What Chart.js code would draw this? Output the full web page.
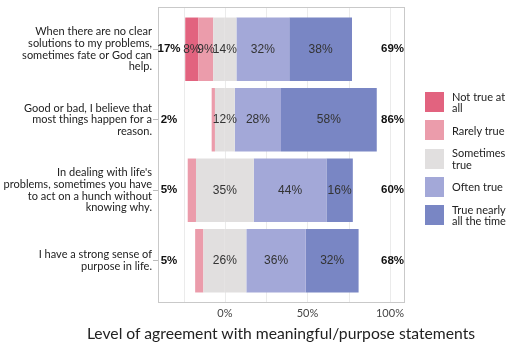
<!DOCTYPE html>
<html>
<head>
<meta charset="utf-8">
<script src="https://cdn.jsdelivr.net/npm/chart.js@4.4.1/dist/chart.umd.min.js"></script>
<style>
  body { margin: 0; background: #fff; }
  #wrap { position: relative; width: 518px; height: 345px; }
  #legend { position: absolute; left: 425px; top: 88px; font-family: Lato, sans-serif; font-size: 11px; color: #222; }
  .item { display: flex; align-items: center; height: 28.3px; }
  .box { width: 19px; height: 20px; margin-right: 8px; flex: none; }
  .txt { line-height: 11.5px; }
  #xtitle { position: absolute; left: 0; width: 562px; top: 322px; line-height: 22px; text-align: center;
            font-family: Lato, sans-serif; font-size: 15.7px; color: #222; white-space: nowrap; }
</style>
</head>
<body>
<div id="wrap">
  <canvas id="likertChart"></canvas>
  <div id="legend"></div>
  <div id="xtitle">Level of agreement with meaningful/purpose statements</div>
</div>
<script>
const categories = [
    ['When there are no clear', 'solutions to my problems,', 'sometimes fate or God can', 'help.'],
    ['Good or bad, I believe that', 'most things happen for a', 'reason.'],
    ["In dealing with life's", 'problems, sometimes you have', 'to act on a hunch without', 'knowing why.'],
    ['I have a strong sense of', 'purpose in life.']
];
const notTrue    = [8, 0, 0, 0];
const rarelyTrue = [9, 2, 5, 5];
const sometimes  = [14, 12, 35, 26];
const oftenTrue  = [32, 28, 44, 36];
const nearlyAll  = [38, 58, 16, 32];
const disagreeTotal = [17, 2, 5, 5];
const agreeTotal    = [69, 86, 60, 68];
const tickValues = [0, 50, 100];
const gridValues = [-25, 0, 25, 50, 75, 100];

const legendNames = ['Not true at<br>all', 'Rarely true', 'Sometimes<br>true', 'Often true', 'True nearly<br>all the time'];
const colors = ['#e2637f', '#eb9cab', '#e1dfdf', '#a3a8d8', '#7986c4'];

// left side stacks outward from 0, so the neutral half goes first
const datasets = [
    { label: 'Sometimes true', data: sometimes.map(v => -v / 2), backgroundColor: colors[2] },
    { label: 'Rarely true', data: rarelyTrue.map(v => -v), backgroundColor: colors[1] },
    { label: 'Not true at all', data: notTrue.map(v => -v), backgroundColor: colors[0] },
    { label: 'Sometimes true', data: sometimes.map(v => v / 2), backgroundColor: colors[2] },
    { label: 'Often true', data: oftenTrue, backgroundColor: colors[3] },
    { label: 'True nearly all the time', data: nearlyAll, backgroundColor: colors[4] }
];

const frameAndGrid = {
    id: 'frameAndGrid',
    beforeDatasetsDraw(chart) {
        const { ctx, chartArea: a, scales: { x } } = chart;
        ctx.save();
        ctx.strokeStyle = '#ebebeb';
        ctx.lineWidth = 1;
        gridValues.forEach(v => {
            const px = Math.round(x.getPixelForValue(v)) + 0.5;
            ctx.beginPath();
            ctx.moveTo(px, a.top - 7);
            ctx.lineTo(px, a.bottom + 7);
            ctx.stroke();
        });
        ctx.strokeStyle = '#c9c9c9';
        ctx.strokeRect(a.left + 0.5, a.top - 6.5, a.right - a.left, a.bottom - a.top + 13);
        ctx.restore();
    }
};

const barLabels = {
    id: 'barLabels',
    afterDatasetsDraw(chart) {
        const { ctx, chartArea: a, scales: { x } } = chart;
        ctx.save();
        ctx.textAlign = 'center';
        ctx.textBaseline = 'middle';
        categories.forEach((c, i) => {
            const y = chart.getDatasetMeta(0).data[i].y;
            ctx.font = '12px "Liberation Sans", Arial, sans-serif';
            ctx.fillStyle = '#333';
            [[2, notTrue], [1, rarelyTrue], [4, oftenTrue], [5, nearlyAll]].forEach(([d, vals]) => {
                if (vals[i] < 6) return;
                const el = chart.getDatasetMeta(d).data[i];
                ctx.fillText(vals[i] + '%', (el.x + el.base) / 2, y);
            });
            if (sometimes[i] >= 6) ctx.fillText(sometimes[i] + '%', x.getPixelForValue(0), y);
            ctx.font = 'bold 11.5px "Liberation Sans", Arial, sans-serif';
            ctx.fillStyle = '#111';
            ctx.fillText(disagreeTotal[i] + '%', a.left + 11, y);
            ctx.fillText(agreeTotal[i] + '%', a.right - 11.5, y);
        });
        ctx.restore();
    }
};

new Chart(document.getElementById('likertChart'), {
    type: 'bar',
    data: { labels: categories, datasets: datasets },
    options: {
        indexAxis: 'y',
        responsive: true,
        maintainAspectRatio: false,
        animation: false,
        layout: { padding: { top: 14, right: 114, left: 0, bottom: 0 } },
        datasets: { bar: { barPercentage: 0.9, categoryPercentage: 1.0, borderWidth: 0 } },
        plugins: { legend: { display: false }, tooltip: { enabled: false } },
        scales: {
            x: {
                stacked: true,
                min: -40.5,
                max: 108.5,
                grid: { display: false, drawTicks: false },
                border: { display: false },
                afterBuildTicks: s => { s.ticks = tickValues.map(v => ({ value: v })); },
                afterFit: s => { s.height = 49; },
                ticks: {
                    padding: 11,
                    color: '#444',
                    font: { family: 'Lato', size: 11 },
                    callback: v => v + '%'
                }
            },
            y: {
                stacked: true,
                border: { display: false },
                grid: { drawOnChartArea: false, offset: false, tickLength: 5, color: '#bbb' },
                afterFit: s => { s.width = 158; },
                ticks: {
                    padding: 1,
                    color: '#222',
                    font: { family: 'Lato', size: 11, lineHeight: '11.7px' }
                }
            }
        }
    },
    plugins: [frameAndGrid, barLabels]
});

const legendEl = document.getElementById('legend');
legendNames.forEach((name, i) => {
    legendEl.innerHTML += '<div class="item"><div class="box" style="background:' + colors[i] + '"></div><div class="txt">' + name + '</div></div>';
});
</script>
</body>
</html>
